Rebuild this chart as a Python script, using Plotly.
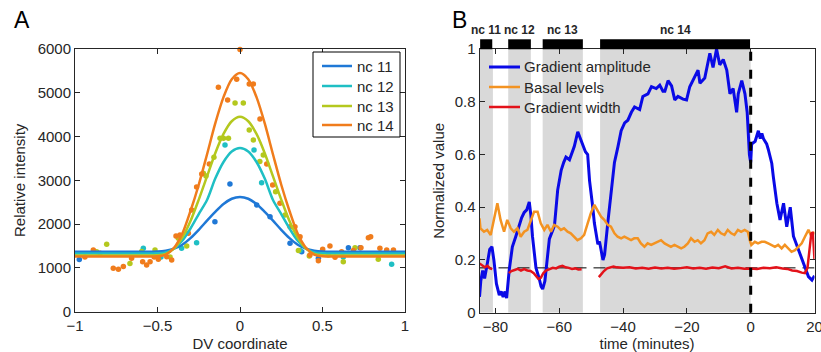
import plotly.graph_objects as go

# ---------------- Panel A data ----------------
series_names = ["nc 11", "nc 12", "nc 13", "nc 14"]
series_colors = ["#1f78d6", "#1fbfc4", "#b4c81e", "#f07c1c"]

curve_x = [-1.0, -0.6, -0.5, -0.45, -0.4, -0.35, -0.3, -0.25, -0.2, -0.15, -0.1, -0.05, 0.0,
           0.05, 0.1, 0.15, 0.2, 0.25, 0.3, 0.35, 0.4, 0.45, 0.5, 0.6, 1.0]
curve_nc11 = [1370, 1370, 1375, 1395, 1440, 1530, 1680, 1870, 2080, 2280, 2460, 2580, 2620,
              2580, 2460, 2280, 2080, 1870, 1680, 1530, 1440, 1395, 1375, 1370, 1370]
curve_nc12 = [1330, 1330, 1335, 1355, 1440, 1620, 1900, 2230, 2550, 3040, 3420, 3660, 3740,
              3660, 3420, 3040, 2550, 2230, 1900, 1620, 1440, 1355, 1335, 1330, 1330]
curve_nc13 = [1285, 1285, 1290, 1320, 1440, 1690, 2070, 2560, 3090, 3620, 4060, 4350, 4450,
              4350, 4060, 3620, 3090, 2560, 2070, 1690, 1440, 1320, 1290, 1285, 1285]
curve_nc14 = [1260, 1260, 1265, 1305, 1460, 1780, 2300, 2900, 3590, 4300, 4900, 5310, 5450,
              5310, 4900, 4300, 3590, 2900, 2300, 1780, 1460, 1305, 1265, 1260, 1260]

pts_nc11_x = [-0.974, -0.152, -0.061, 0.101, 0.182, 0.303, 0.374, 0.475, 0.657, 0.727]
pts_nc11_y = [1190, 2056, 2917, 2437, 2170, 1562, 1370, 1220, 1462, 1462]

pts_nc12_x = [-0.586, -0.479, -0.354, -0.263, -0.091, 0.085, 0.131, 0.364, 0.626, 0.919]
pts_nc12_y = [1448, 1250, 1448, 1577, 3808, 3694, 2947, 1400, 1250, 1083]

pts_nc13_x = [-0.869, -0.808, -0.667, -0.596, -0.515, -0.424, -0.374, -0.323, -0.222, -0.206,
              -0.158, -0.121, -0.1, -0.07, -0.03, 0.02, 0.056, 0.081, 0.12, 0.141, 0.216,
              0.273, 0.354, 0.42, 0.535, 0.626, 0.697, 0.838]
pts_nc13_y = [1370, 1540, 1100, 1373, 1410, 1250, 1675, 1500, 3160, 3100,
              3526, 3961, 3961, 3961, 4767, 4767, 4150, 3922, 3428, 3580, 2742,
              2208, 1395, 1273, 1295, 1142, 1460, 1197]

pts_nc14_x = [-0.94, -0.889, -0.848, -0.768, -0.737, -0.707, -0.657, -0.59, -0.566, -0.545,
              -0.52, -0.495, -0.444, -0.414, -0.388, -0.364, -0.313, -0.293, -0.263, -0.232,
              -0.186, -0.131, -0.075, -0.02, 0.0, 0.056, 0.081, 0.121, 0.162, 0.198, 0.242,
              0.303, 0.333, 0.364, 0.424, 0.475, 0.501, 0.545, 0.576, 0.616, 0.687, 0.733,
              0.778, 0.792, 0.848, 0.889, 0.93]
pts_nc14_y = [1250, 1409, 1333, 991, 968, 1030, 1220, 1142, 1068, 1142,
              1250, 1197, 1256, 1181, 1729, 1752, 1790, 2323, 2849, 3145,
              3374, 5126, 4836, 5308, 5990, 5200, 5200, 4400, 3374, 2894, 2476,
              1942, 1942, 1713, 1295, 1166, 1425, 1500, 1244, 1370, 1400, 1460,
              1690, 1713, 1448, 1409, 1409]

# ---------------- Panel B data ----------------
amp_t = [-85.0, -84.6, -84.0, -83.4, -82.5, -81.8, -81.1, -80.5, -79.7, -78.8, -78.2, -77.6,
         -77.0, -76.5, -75.7, -74.7, -73.6, -72.5, -71.8, -71.0, -70.2, -69.4, -68.9, -68.4,
         -67.3, -66.3, -65.7, -65.2, -64.5, -63.1, -61.5, -60.5, -59.4, -58.6, -57.9, -56.8,
         -55.3, -54.2, -53.4, -52.6, -51.8, -51.1, -50.5, -49.5, -49.0, -47.9, -47.4, -46.3,
         -45.8, -44.8, -43.7, -42.7, -41.6, -40.6, -39.5, -38.5, -37.4, -36.4, -34.8, -33.8,
         -32.2, -31.1, -29.6, -28.5, -27.5, -26.9, -25.9, -24.8, -23.8, -22.8, -21.2, -20.1,
         -19.1, -17.5, -16.5, -15.9, -14.4, -12.8, -11.8, -10.7, -9.7, -8.6, -7.5, -6.5,
         -5.5, -4.4, -3.9, -2.8, -1.8, -1.1, -0.4, 0.0, 0.3, 1.4, 2.4, 3.0, 3.5, 4.0, 5.0,
         5.5, 6.6, 7.1, 8.2, 9.2, 10.3, 11.3, 12.4, 13.4, 15.0, 16.5, 18.1, 19.2, 20.0]
amp_v = [0.06, 0.12, 0.16, 0.13, 0.19, 0.24, 0.25, 0.20, 0.11, 0.067, 0.08, 0.06,
         0.08, 0.055, 0.16, 0.25, 0.29, 0.33, 0.36, 0.38, 0.39, 0.42, 0.37, 0.29,
         0.17, 0.13, 0.10, 0.09, 0.12, 0.28, 0.33, 0.465, 0.54, 0.57, 0.59, 0.58,
         0.63, 0.686, 0.66, 0.63, 0.61, 0.60, 0.50, 0.40, 0.34, 0.26, 0.27, 0.20,
         0.22, 0.34, 0.465, 0.57, 0.63, 0.69, 0.72, 0.73, 0.76, 0.78, 0.77, 0.82,
         0.83, 0.857, 0.85, 0.863, 0.84, 0.84, 0.88, 0.86, 0.807, 0.82, 0.81, 0.807,
         0.857, 0.895, 0.92, 0.87, 0.89, 0.984, 0.93, 1.0, 0.94, 0.96, 0.92, 0.83,
         0.85, 0.76, 0.83, 0.88, 0.83, 0.76, 0.60, 0.57, 0.64, 0.65, 0.69, 0.66, 0.68, 0.66, 0.64,
         0.62, 0.567, 0.515, 0.415, 0.352, 0.415, 0.326, 0.40, 0.29, 0.24, 0.19, 0.137, 0.124, 0.14]

basal_t = [-85.0, -84.7, -83.6, -82.6, -81.5, -80.5, -79.4, -78.4, -77.3, -76.3, -75.2, -74.2,
           -73.1, -72.1, -71.0, -70.0, -68.9, -67.9, -66.8, -65.8, -64.7, -63.7, -62.6, -61.6,
           -60.5, -59.5, -58.5, -57.4, -56.4, -55.3, -54.3, -53.2, -52.2, -51.1, -50.1, -49.0,
           -48.0, -46.9, -45.9, -44.8, -43.8, -42.7, -41.7, -40.6, -39.6, -38.6, -37.5, -36.5,
           -35.4, -34.4, -33.3, -32.3, -31.2, -30.2, -29.1, -28.1, -27.0, -26.0, -25.0, -23.9,
           -22.9, -21.8, -20.8, -19.7, -18.7, -17.6, -16.6, -15.6, -14.5, -13.5, -12.4, -11.4,
           -10.3, -9.3, -8.2, -7.2, -6.1, -5.1, -4.0, -3.0, -1.9, -0.9, -0.3, 0.2, 1.3, 2.3,
           3.4, 4.4, 5.5, 6.5, 7.6, 8.6, 9.7, 10.7, 11.8, 12.8, 13.9, 14.9, 16.0, 17.0, 18.1,
           19.1, 20.0]
basal_v = [0.358, 0.320, 0.307, 0.314, 0.295, 0.352, 0.415, 0.352, 0.307, 0.352, 0.320, 0.307,
           0.320, 0.288, 0.307, 0.314, 0.352, 0.383, 0.383, 0.339, 0.314, 0.333, 0.307, 0.333,
           0.326, 0.314, 0.320, 0.307, 0.301, 0.288, 0.275, 0.282, 0.295, 0.339, 0.377, 0.409,
           0.390, 0.364, 0.352, 0.333, 0.326, 0.301, 0.288, 0.282, 0.288, 0.282, 0.275, 0.282,
           0.282, 0.263, 0.250, 0.263, 0.257, 0.263, 0.269, 0.275, 0.263, 0.257, 0.250, 0.257,
           0.250, 0.244, 0.250, 0.263, 0.282, 0.269, 0.275, 0.263, 0.275, 0.301, 0.307, 0.295,
           0.314, 0.301, 0.295, 0.314, 0.301, 0.295, 0.314, 0.307, 0.314, 0.307, 0.275, 0.257,
           0.269, 0.263, 0.269, 0.269, 0.263, 0.257, 0.250, 0.257, 0.244, 0.257, 0.244, 0.231,
           0.237, 0.250, 0.263, 0.288, 0.314, 0.288, 0.307]

width_t = [-85.0, -84.2, -83.3, -82.5, -81.7, -81.0, None,
           -75.8, -75.0, -74.0, -73.0, -72.0, -71.0, -70.0, -69.0, -68.0, -67.3, -66.5, -65.8,
           -65.0, -64.2, -63.0, -62.0, -61.0, -60.0, -59.0, -58.0, -57.0, -56.0, -55.0, -54.0,
           -53.0, None,
           -47.6, -47.0, -46.0, -45.0, -44.0, -43.0, -42.0, -40.0, -38.0, -36.0, -34.0, -32.0,
           -30.0, -28.0, -26.0, -24.0, -22.0, -20.0, -18.0, -16.0, -14.0, -12.0, -10.0, -8.0,
           -6.0, -4.0, -2.0, 0.0, 2.0, 4.0, 6.0, 8.0, 10.0, 11.5, 13.0, 14.5, 16.0, 17.0, 17.8,
           18.4, 19.0, 19.5, 20.0]
width_v = [0.187, 0.180, 0.172, 0.178, 0.168, 0.165, None,
           0.150, 0.158, 0.162, 0.166, 0.160, 0.165, 0.160, 0.158, 0.150, 0.138, 0.128, 0.132,
           0.150, 0.160, 0.165, 0.170, 0.168, 0.175, 0.178, 0.172, 0.170, 0.166, 0.168, 0.164,
           0.165, None,
           0.135, 0.145, 0.158, 0.168, 0.172, 0.175, 0.172, 0.170, 0.172, 0.168, 0.170, 0.167,
           0.171, 0.168, 0.170, 0.167, 0.169, 0.172, 0.168, 0.170, 0.167, 0.171, 0.169, 0.176,
           0.168, 0.170, 0.167, 0.168, 0.166, 0.170, 0.169, 0.172, 0.168, 0.166, 0.160, 0.158,
           0.152, 0.150, 0.170, 0.240, 0.300, 0.305, 0.200]

width_reference = 0.17
cycle_names = ["nc 11", "nc 12", "nc 13", "nc 14"]
cycle_bar_start = [-84.8, -76.0, -65.2, -47.2]
cycle_bar_end = [-81.0, -68.9, -52.6, -0.2]
cycle_shade_start = [-85.0, -76.0, -65.2, -47.2]
cycle_shade_end = [-80.8, -68.9, -52.6, 0.0]

b_names = ["Gradient amplitude", "Basal levels", "Gradient width"]
b_colors = ["#0a0ae6", "#f39322", "#e3121a"]
b_widths = [3, 2.5, 2.5]

# ---------------- Figure ----------------
FONT = "Liberation Sans, Arial, sans-serif"
TXT = "#262626"
W, H = 821, 352
fig = go.Figure()


def px(xp):
    return xp / W


def py(yp):
    return 1 - yp / H


pts = [(pts_nc11_x, pts_nc11_y), (pts_nc12_x, pts_nc12_y),
       (pts_nc13_x, pts_nc13_y), (pts_nc14_x, pts_nc14_y)]
for (xs, ys), col in zip(pts, series_colors):
    fig.add_trace(go.Scatter(x=xs, y=ys, mode="markers", xaxis="x", yaxis="y",
                             marker=dict(color=col, size=5.5), showlegend=False,
                             cliponaxis=False))
curves = [curve_nc11, curve_nc12, curve_nc13, curve_nc14]
for name, col, cy in zip(series_names, series_colors, curves):
    fig.add_trace(go.Scatter(x=curve_x, y=cy, mode="lines", name=name, xaxis="x", yaxis="y",
                             line=dict(color=col, width=2.5, shape="spline", smoothing=0.8),
                             showlegend=False))

# Panel B traces
fig.add_trace(go.Scatter(x=[-85, 20], y=[width_reference, width_reference], mode="lines",
                         xaxis="x2", yaxis="y2", showlegend=False,
                         line=dict(color="black", width=1, dash="12px,7px")))
for name, col, lw, (tt, vv) in zip(b_names, b_colors, b_widths,
                                   [(amp_t, amp_v), (basal_t, basal_v), (width_t, width_v)]):
    fig.add_trace(go.Scatter(x=tt, y=vv, mode="lines", name=name, xaxis="x2", yaxis="y2",
                             line=dict(color=col, width=lw), connectgaps=False,
                             showlegend=False))

shapes = []
for s, e in zip(cycle_shade_start, cycle_shade_end):
    shapes.append(dict(type="rect", xref="x2", yref="y2", x0=s, x1=e, y0=0, y1=1,
                       fillcolor="#d9d9d9", line=dict(width=0), layer="below"))
# legend box of panel B (drawn under the data lines, as in the original)
shapes.append(dict(type="rect", xref="paper", yref="paper", x0=px(483), x1=px(668),
                   y0=py(118), y1=py(55), fillcolor="white", line=dict(width=0), layer="below"))
BAR_Y0, BAR_Y1 = py(49.3), py(39.3)
for s, e in zip(cycle_bar_start, cycle_bar_end):
    shapes.append(dict(type="rect", xref="x2", yref="paper", x0=s, x1=e, y0=BAR_Y0, y1=BAR_Y1,
                       fillcolor="black", line=dict(width=0)))
shapes.append(dict(type="line", xref="x2", yref="y2", x0=0, x1=0, y0=0, y1=1,
                   line=dict(color="black", width=3, dash="dash")))

annotations = []
for nm, s, e in zip(cycle_names, cycle_bar_start, cycle_bar_end):
    annotations.append(dict(text="<b>" + nm + "</b>", x=(s + e) / 2, xref="x2", y=py(30),
                            yref="paper", showarrow=False,
                            font=dict(size=12, color=TXT, family=FONT),
                            xanchor="center", yanchor="middle"))
annotations.append(dict(text="A", x=px(12), y=py(20), xref="paper", yref="paper",
                        showarrow=False, font=dict(size=23, color="black", family=FONT),
                        xanchor="left", yanchor="middle"))
annotations.append(dict(text="B", x=px(450), y=py(20), xref="paper", yref="paper",
                        showarrow=False, font=dict(size=23, color="black", family=FONT),
                        xanchor="left", yanchor="middle"))

# Panel A legend (boxed)
shapes.append(dict(type="rect", xref="paper", yref="paper", x0=px(313), x1=px(400),
                   y0=py(137), y1=py(52), fillcolor="white", line=dict(color="black", width=1)))
legA_rows = [66, 86, 106, 125]
for name, col, yy in zip(series_names, series_colors, legA_rows):
    shapes.append(dict(type="line", xref="paper", yref="paper", x0=px(322), x1=px(352),
                       y0=py(yy), y1=py(yy), line=dict(color=col, width=2.5)))
    annotations.append(dict(text=name, x=px(355), y=py(yy), xref="paper", yref="paper",
                            showarrow=False, xanchor="left", yanchor="middle",
                            font=dict(size=15, color=TXT, family=FONT)))
# Panel B legend entries
legB_rows = [67, 87, 107]
for name, col, lw, yy in zip(b_names, b_colors, b_widths, legB_rows):
    shapes.append(dict(type="line", xref="paper", yref="paper", x0=px(489), x1=px(520),
                       y0=py(yy), y1=py(yy), line=dict(color=col, width=lw)))
    annotations.append(dict(text=name, x=px(522), y=py(yy), xref="paper", yref="paper",
                            showarrow=False, xanchor="left", yanchor="middle",
                            font=dict(size=15, color=TXT, family=FONT)))

ax_common = dict(showline=True, linecolor=TXT, linewidth=1, mirror="allticks", ticks="inside",
                 ticklen=5, tickcolor=TXT, showgrid=False, zeroline=False, automargin=False,
                 ticklabeloverflow="allow",
                 tickfont=dict(size=15, color=TXT, family=FONT))

fig.update_layout(
    template="none",
    width=W, height=H, margin=dict(l=0, r=0, t=0, b=0),
    paper_bgcolor="white", plot_bgcolor="white", showlegend=False,
    font=dict(family=FONT, size=15, color=TXT),
    xaxis=dict(domain=[px(75), px(405)], range=[-1, 1], tickvals=[-1, -0.5, 0, 0.5, 1],
               ticktext=["−1", "−0.5", "0", "0.5", "1"], anchor="y", ticklabelstandoff=0,
               title=dict(text="DV coordinate", standoff=6, font=dict(size=15)), **ax_common),
    yaxis=dict(domain=[py(311.7), py(49)], range=[0, 6000],
               tickvals=[0, 1000, 2000, 3000, 4000, 5000, 6000],
               anchor="x", title=dict(text="Relative intensity", standoff=8, font=dict(size=15)),
               **ax_common),
    xaxis2=dict(domain=[px(479.5), px(814.5)], range=[-85, 20],
                tickvals=[-80, -60, -40, -20, 0, 20],
                ticktext=["−80", "−60", "−40", "−20", "0", "20"], ticklabelstandoff=0,
                anchor="y2", title=dict(text="time (minutes)", standoff=6, font=dict(size=15)),
                **ax_common),
    yaxis2=dict(domain=[py(312.7), py(49)], range=[0, 1], tickvals=[0, 0.2, 0.4, 0.6, 0.8, 1],
                ticktext=["0", "0.2", "0.4", "0.6", "0.8", "1"], anchor="x2",
                title=dict(text="Normalized value", standoff=6, font=dict(size=15)), **ax_common),
    shapes=shapes, annotations=annotations,
)

fig.write_html("out.html")
